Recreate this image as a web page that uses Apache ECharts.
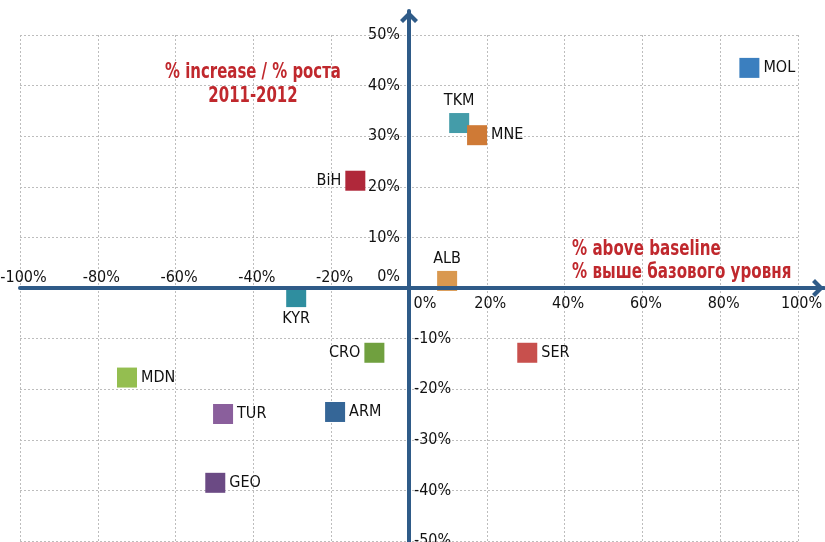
<!DOCTYPE html>
<html><head><meta charset="utf-8">
<script src="https://cdn.jsdelivr.net/npm/echarts@6/dist/echarts.min.js"></script>
<style>html,body{margin:0;padding:0;background:#fff}#c{width:825px;height:542px}</style>
</head><body><div id="c"></div>
<script>
// ---- data ----
const countries = ['MOL', 'TKM', 'MNE', 'ALB', 'BiH', 'KYR', 'CRO', 'MDN', 'TUR', 'ARM', 'GEO', 'SER'];
const aboveBaseline = [87.5, 12.9, 17.5, 9.8, -13.8, -29.0, -8.9, -72.5, -47.8, -19.0, -49.8, 30.4];
const increase = [43.5, 32.6, 30.2, 1.4, 21.2, -1.8, -12.8, -17.7, -24.9, -24.5, -38.5, -12.8];
const xTicks = [-100, -80, -60, -40, -20, 0, 20, 40, 60, 80, 100];
const yTicks = [-50, -40, -30, -20, -10, 0, 10, 20, 30, 40, 50];
const titleLines = ['% increase / % роста', '2011-2012'];
const xNameLines = ['% above baseline', '% выше базового уровня'];

// ---- style ----
const FONT = "'DejaVu Sans Condensed','DejaVu Sans',sans-serif";
const AXIS_COLOR = '#2f5b88';
const RED = '#c0282d';
const TEXT = '#111111';
const pointColors = {MOL:'#3b7fbf', TKM:'#449ca9', MNE:'#cf7a36', ALB:'#d9984f', BiH:'#b0283a', KYR:'#2f8e9f',
  CRO:'#70a03f', MDN:'#94be50', TUR:'#8a5f9c', ARM:'#356697', GEO:'#6b4a84', SER:'#c8504d'};
const labelPos = {MOL:'right', TKM:'top', MNE:'right', ALB:'top', BiH:'left', KYR:'bottom',
  CRO:'left', MDN:'right', TUR:'right', ARM:'right', GEO:'right', SER:'right'};
const CHEVRON = 'path://M0,9 L9,0 L18,9 L15,12 L9,6 L3,12 Z';

const W = 825, H = 542;
const xMin = xTicks[0], xMax = xTicks[xTicks.length - 1], xStep = xTicks[1] - xTicks[0];
const yMin = yTicks[0], yMax = yTicks[yTicks.length - 1], yStep = yTicks[1] - yTicks[0];

const grid1 = {left: 20, right: 27, top: 35, bottom: 1};
const g1w = W - grid1.left - grid1.right, g1h = H - grid1.top - grid1.bottom;
const pxX = g1w / (xMax - xMin);
const pxY = g1h / (yMax - yMin);
// distance from grid edges to the zero lines (used to move label axes onto the zero lines)
const zeroFromLeft = (0 - xMin) * pxX, zeroFromRight = (xMax - 0) * pxX;
const zeroFromTop = (yMax - 0) * pxY, zeroFromBottom = (0 - yMin) * pxY;

const grid2 = {left: 20, right: 1, top: 11, bottom: 0};
const ax2xMax = xMin + (W - grid2.left - grid2.right) / pxX;
const ax2yMax = yMax + (grid1.top - grid2.top) / pxY;
const ax2yMin = ax2yMax - (H - grid2.top - grid2.bottom) / pxY;

const lblFont = {fontFamily: FONT, fontSize: 16, color: TEXT};
const split = {show: true, lineStyle: {color: '#bdbdbd', width: 1, type: [2, 2]}};
const noLine = {show: false, onZero: false};

const chart = echarts.init(document.getElementById('c'), null, {renderer: 'canvas'});
chart.setOption({
  animation: false,
  backgroundColor: '#ffffff',
  grid: [
    Object.assign({containLabel: false, outerBoundsMode: 'none'}, grid1),
    Object.assign({containLabel: false, outerBoundsMode: 'none'}, grid2)
  ],
  xAxis: [
    {type: 'value', gridIndex: 0, position: 'bottom', offset: -zeroFromBottom, min: xMin, max: xMax, interval: xStep,
      axisLine: noLine, axisTick: {show: false},
      splitLine: split,
      axisLabel: Object.assign({margin: 8,
        formatter: v => v > 0 ? '{a|' + v + '%}' : (v === 0 ? '{z|0%}' : ''),
        rich: {a: Object.assign({padding: [0, 0, 0, 7]}, lblFont), z: Object.assign({padding: [0, 0, 0, 32]}, lblFont)}
      }, lblFont)},
    {type: 'value', gridIndex: 0, position: 'top', offset: -zeroFromTop, min: xMin, max: xMax, interval: xStep,
      axisLine: noLine, axisTick: {show: false},
      splitLine: {show: false},
      axisLabel: Object.assign({margin: 2,
        formatter: v => v < 0 ? '{a|' + v + '%}' : '',
        rich: {a: Object.assign({padding: [0, 0, 0, 7]}, lblFont)}
      }, lblFont)},
    {type: 'value', gridIndex: 1, min: xMin, max: ax2xMax, z: 5,
      axisLine: {show: true, onZero: true,
        lineStyle: {color: AXIS_COLOR, width: 4},
        symbol: ['none', CHEVRON], symbolSize: [18, 12], symbolOffset: [0, -6]},
      axisTick: {show: false}, axisLabel: {show: false}, splitLine: {show: false}}
  ],
  yAxis: [
    {type: 'value', gridIndex: 0, position: 'left', offset: -zeroFromLeft, min: yMin, max: yMax, interval: yStep,
      axisLine: noLine, axisTick: {show: false},
      splitLine: split,
      axisLabel: Object.assign({margin: 9,
        formatter: v => v > 0 ? v + '%' : (v === 0 ? '{z|0%}' : ''),
        rich: {z: Object.assign({padding: [0, 0, 22, 0]}, lblFont)}
      }, lblFont)},
    {type: 'value', gridIndex: 0, position: 'right', offset: -zeroFromRight, min: yMin, max: yMax, interval: yStep,
      axisLine: noLine, axisTick: {show: false},
      splitLine: {show: false},
      axisLabel: Object.assign({margin: 5,
        formatter: v => v < 0 ? v + '%' : ''
      }, lblFont)},
    {type: 'value', gridIndex: 1, min: ax2yMin, max: ax2yMax, z: 5,
      axisLine: {show: true, onZero: true,
        lineStyle: {color: AXIS_COLOR, width: 4},
        symbol: ['none', CHEVRON], symbolSize: [18, 12], symbolOffset: [0, -6]},
      axisTick: {show: false}, axisLabel: {show: false}, splitLine: {show: false}}
  ],
  graphic: [
    {type: 'text', x: 253, y: 85, z: 10, scaleX: 0.79, originX: 0, style: {text: titleLines.join('\n'), fontFamily: FONT, fontSize: 21,
      fontWeight: 'bold', fill: RED, align: 'center', verticalAlign: 'middle', lineHeight: 24}},
    {type: 'text', x: 572, y: 261.5, z: 10, scaleX: 0.8, originX: 0, style: {text: xNameLines.join('\n'), fontFamily: FONT, fontSize: 21,
      fontWeight: 'bold', fill: RED, align: 'left', verticalAlign: 'middle', lineHeight: 23}}
  ],
  series: [{
    type: 'scatter', xAxisIndex: 0, yAxisIndex: 0, z: 1,
    symbol: 'rect', symbolSize: 20,
    itemStyle: {opacity: 1},
    data: countries.map((c, i) => ({
      name: c, value: [aboveBaseline[i], increase[i]],
      itemStyle: {color: pointColors[c], opacity: 1},
      label: {position: labelPos[c]}
    })),
    label: Object.assign({show: true, distance: 4, formatter: p => p.name}, lblFont)
  }]
});
</script>
</body></html>
